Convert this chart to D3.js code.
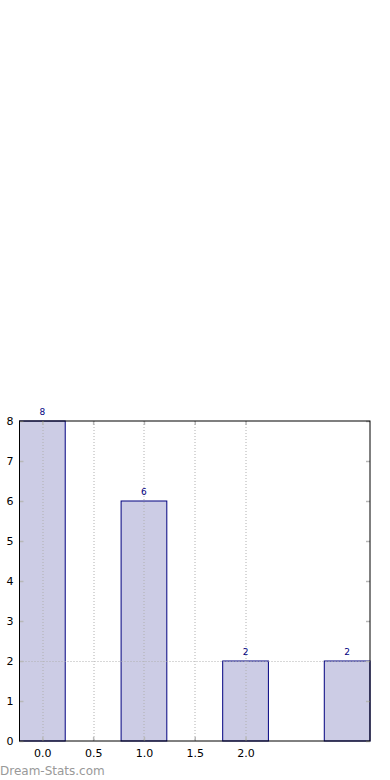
<!DOCTYPE html>
<html>
<head>
<meta charset="utf-8">
<script src="https://cdn.jsdelivr.net/npm/d3@7"></script>
<style>
  body { margin: 0; background: #fff; }
  svg { display: block; font-family: "DejaVu Sans", sans-serif; }
</style>
</head>
<body>
<div id="chart"></div>
<script>
// data
const positions = [0, 1, 2, 3];
const counts = [8, 6, 2, 2];
const xTicks = [0, 0.5, 1, 1.5, 2];
const yTicks = [0, 1, 2, 3, 4, 5, 6, 7, 8];
const yGrid = [2];

const width = 390, height = 780;
const margin = { top: 421, right: 20, bottom: 39, left: 19.5 };
const innerWidth = width - margin.left - margin.right;
const innerHeight = height - margin.top - margin.bottom;
const barWidth = 0.45;

const svg = d3.select("#chart")
  .append("svg")
    .attr("width", width)
    .attr("height", height);

const innerChart = svg
  .append("g")
    .attr("transform", `translate(${margin.left}, ${margin.top})`);

/*    scales    */
const xScale = d3.scaleLinear()
  .domain([-0.225, 3.225])
  .range([0, innerWidth]);

const yScale = d3.scaleLinear()
  .domain([0, 8])
  .range([innerHeight, 0]);

/*    bars    */
innerChart.selectAll(".bar")
  .data(positions)
  .join("rect")
    .attr("class", "bar")
    .attr("x", (d) => xScale(d - barWidth / 2))
    .attr("y", (d, i) => yScale(counts[i]))
    .attr("width", xScale(barWidth) - xScale(0))
    .attr("height", (d, i) => yScale(0) - yScale(counts[i]))
    .attr("fill", "#ccccE5")
    .attr("stroke", "#000080")
    .attr("stroke-width", 1);

/*    grid    */
innerChart.selectAll(".vgrid")
  .data(xTicks)
  .join("line")
    .attr("x1", d => Math.round(xScale(d)) + 0.5)
    .attr("x2", d => Math.round(xScale(d)) + 0.5)
    .attr("y1", 0)
    .attr("y2", innerHeight)
    .attr("stroke", "#b0b0b0")
    .attr("stroke-dasharray", "1,2");

innerChart.selectAll(".hgrid")
  .data(yGrid)
  .join("line")
    .attr("x1", 0)
    .attr("x2", innerWidth)
    .attr("y1", d => Math.round(yScale(d)) + 0.5)
    .attr("y2", d => Math.round(yScale(d)) + 0.5)
    .attr("stroke", "#b0b0b0")
    .attr("stroke-dasharray", "1,2");

/*    value labels    */
innerChart.selectAll(".label")
  .data(positions)
  .join("text")
    .attr("x", d => xScale(d))
    .attr("y", (d, i) => yScale(counts[i]) - 6)
    .attr("text-anchor", "middle")
    .attr("font-size", 9)
    .attr("fill", "#000080")
    .text((d, i) => counts[i]);

/*    axes    */
const tickColor = "#b8b8b8";
const xAxisBottom = innerChart.append("g")
  .attr("transform", `translate(0, ${innerHeight})`)
  .call(d3.axisBottom(xScale).tickValues(xTicks).tickFormat(d3.format(".1f")).tickSizeInner(-4).tickSizeOuter(0).tickPadding(8));
const xAxisTop = innerChart.append("g")
  .call(d3.axisTop(xScale).tickValues(xTicks).tickFormat("").tickSizeInner(-4).tickSizeOuter(0));
const yAxisLeft = innerChart.append("g")
  .call(d3.axisLeft(yScale).tickValues(yTicks).tickFormat(d3.format("d")).tickSizeInner(-4).tickSizeOuter(0).tickPadding(6));
const yAxisRight = innerChart.append("g")
  .attr("transform", `translate(${innerWidth}, 0)`)
  .call(d3.axisRight(yScale).tickValues(yTicks).tickFormat("").tickSizeInner(-4).tickSizeOuter(0));

[xAxisBottom, xAxisTop, yAxisLeft, yAxisRight].forEach(ax => {
  ax.select(".domain").remove();
  ax.selectAll(".tick line").attr("stroke", tickColor).attr("stroke-width", 1.5);
  ax.selectAll("text").attr("font-size", 11).attr("fill", "#000").attr("font-family", "DejaVu Sans, sans-serif");
});

innerChart.append("rect")
  .attr("x", 0)
  .attr("y", 0)
  .attr("width", innerWidth)
  .attr("height", innerHeight)
  .attr("fill", "none")
  .attr("stroke", "#000")
  .attr("stroke-width", 1);

/*    watermark    */
svg.append("text")
  .attr("x", 0)
  .attr("y", 775)
  .attr("font-size", 12)
  .attr("fill", "#999")
  .text("Dream-Stats.com");
</script>
</body>
</html>
